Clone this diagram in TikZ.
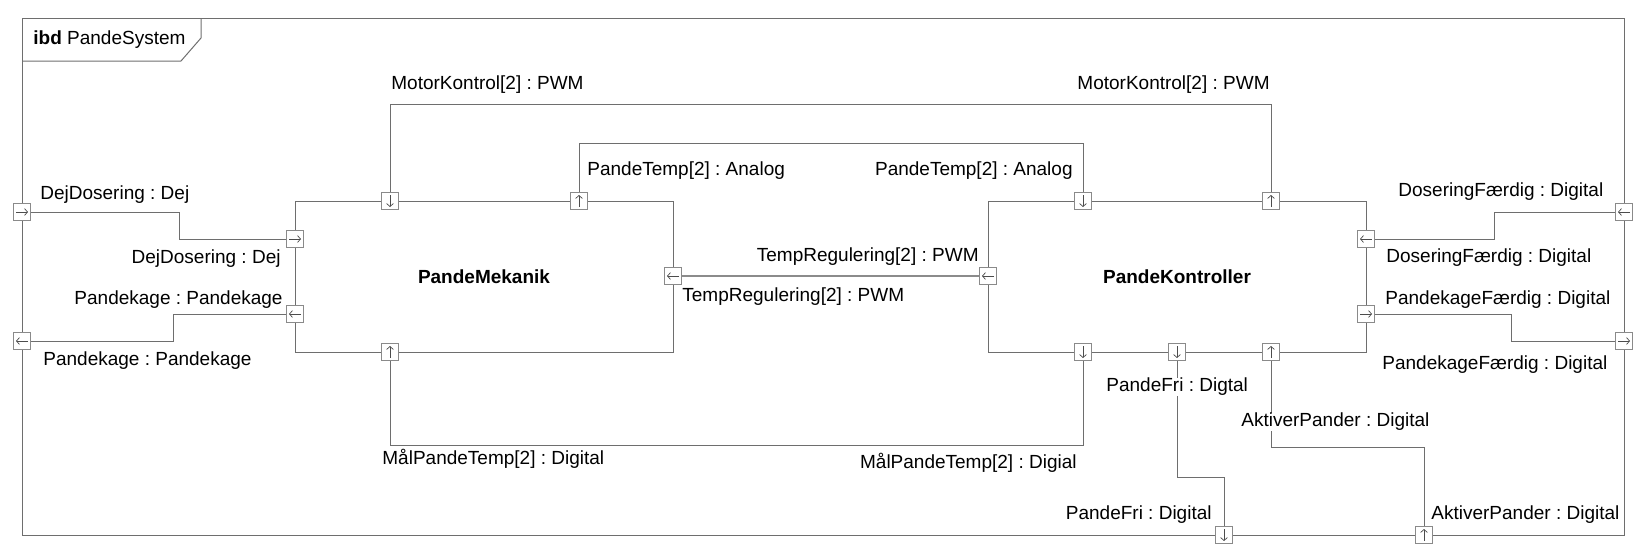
\documentclass[tikz,border=0pt]{standalone}
\usepackage{fontspec}
\setmainfont{Liberation Sans}
\frenchspacing
\usetikzlibrary{arrows.meta}
\definecolor{linegray}{HTML}{6E6E6E}
\definecolor{portgray}{HTML}{8A8A8A}
\newcommand{\lblfont}{\fontsize{9.5}{11.4}\selectfont}
\tikzstyle{block} = [draw=linegray, line width=0.5pt, inner sep=0pt, font=\lblfont\bfseries]
\tikzstyle{lbl} = [inner sep=0pt, fill=white]
\tikzstyle{parr} = [line width=0.35pt, draw=black!70, -{Straight Barb[length=1.5pt,width=3.4pt]}]
\tikzstyle{port} = [draw=portgray, fill=white, line width=0.4pt, minimum size=8.5pt, inner sep=0pt]
\tikzstyle{portR} = [port, path picture={\draw[parr] ([xshift=-3pt]path picture bounding box.center) -- ([xshift=3pt]path picture bounding box.center);}]
\tikzstyle{portL} = [port, path picture={\draw[parr] ([xshift=3pt]path picture bounding box.center) -- ([xshift=-3pt]path picture bounding box.center);}]
\tikzstyle{portU} = [port, path picture={\draw[parr] ([yshift=-3pt]path picture bounding box.center) -- ([yshift=3pt]path picture bounding box.center);}]
\tikzstyle{portD} = [port, path picture={\draw[parr] ([yshift=3pt]path picture bounding box.center) -- ([yshift=-3pt]path picture bounding box.center);}]

\begin{document}
\begin{tikzpicture}[x=0.5pt, y=-0.5pt]
\tikzset{every node/.style={font=\lblfont}}
\useasboundingbox (0,0) rectangle (1652,558);

% frame
\draw[linegray, line width=0.5pt] (22,18) rectangle (1624,535);
\draw[linegray, line width=0.5pt] (22,61) -- (181,61) -- (201,38) -- (201,18);
\node[anchor=west, inner sep=0pt] (title) at (33,40) {\textbf{ibd} PandeSystem};

% blocks
\node[block, minimum width=189pt, minimum height=75.5pt] (mek) at (484,276.5) {PandeMekanik};
\node[block, minimum width=189pt, minimum height=75.5pt] (kon) at (1177,276.5) {PandeKontroller};

% ports on frame
\node[portR] (fDej) at (22,212) {};
\node[portL] (fKage) at (22,341) {};
\node[portL] (fDos) at (1624,212) {};
\node[portR] (fKageF) at (1624,341) {};
\node[portD] (fFri) at (1224,535) {};
\node[portU] (fAkt) at (1424,535) {};

% ports on PandeMekanik
\node[portD] (mMotor) at (390,201) {};
\node[portU] (mTemp) at (579,201) {};
\node[portR] (mDej) at (295,239) {};
\node[portL] (mKage) at (295,314) {};
\node[portL] (mReg) at (673,276) {};
\node[portU] (mMaal) at (390,352) {};

% ports on PandeKontroller
\node[portD] (kTemp) at (1083,201) {};
\node[portU] (kMotor) at (1271,201) {};
\node[portL] (kReg) at (988,276) {};
\node[portL] (kDos) at (1366,239) {};
\node[portR] (kKageF) at (1366,314) {};
\node[portD] (kMaal) at (1083,352) {};
\node[portD] (kFri) at (1177,352) {};
\node[portU] (kAkt) at (1271,352) {};

% connectors
\foreach \from/\via/\to in {fDej/{179,212}/mDej, mKage/{173,314}/fKage, kDos/{1494,239}/fDos, kKageF/{1511,314}/fKageF}
{
	\draw[linegray, line width=0.5pt] (\from) -- (\via) |- (\to);
}
\foreach \from/\via/\to in {mMotor/{390,104}/kMotor, mTemp/{579,143}/kTemp, mMaal/{390,445}/kMaal, kFri/{1177,477}/fFri, kAkt/{1271,447}/fAkt}
{
	\draw[linegray, line width=0.5pt] (\from) -- (\via) -| (\to);
}
\draw[linegray!80, line width=0.9pt] (mReg) -- (kReg);

% labels
\node[lbl, anchor=west] (lMotor1) at (391,85) {MotorKontrol[2] : PWM};
\node[lbl, anchor=east] (lMotor2) at (1270,85) {MotorKontrol[2] : PWM};
\node[lbl, anchor=west] (lTemp1) at (587,171) {PandeTemp[2] : Analog};
\node[lbl, anchor=east] (lTemp2) at (1073,171) {PandeTemp[2] : Analog};
\node[lbl, anchor=west] (lDej1) at (40,195) {DejDosering : Dej};
\node[lbl, anchor=east] (lDej2) at (281,259) {DejDosering : Dej};
\node[lbl, anchor=east] (lKage1) at (283,300) {Pandekage : Pandekage};
\node[lbl, anchor=west] (lKage2) at (43,361) {Pandekage : Pandekage};
\node[lbl, anchor=east] (lReg1) at (979,257) {TempRegulering[2] : PWM};
\node[lbl, anchor=west] (lReg2) at (682,297) {TempRegulering[2] : PWM};
\node[lbl, anchor=west] (lMaal1) at (382,459) {MålPandeTemp[2] : Digital};
\node[lbl, anchor=east] (lMaal2) at (1077,463) {MålPandeTemp[2] : Digial};
\node[lbl, anchor=west] (lDos1) at (1398,192) {DoseringFærdig : Digital};
\node[lbl, anchor=west] (lDos2) at (1386,258) {DoseringFærdig : Digital};
\node[lbl, anchor=west] (lKageF1) at (1385,300) {PandekageFærdig : Digital};
\node[lbl, anchor=west] (lKageF2) at (1382,365) {PandekageFærdig : Digital};
\node[lbl, anchor=west] (lFri1) at (1106,387) {PandeFri : Digtal};
\node[lbl, anchor=west] (lAkt1) at (1241,422) {AktiverPander : Digital};
\node[lbl, anchor=east] (lFri2) at (1212,515) {PandeFri : Digital};
\node[lbl, anchor=west] (lAkt2) at (1431,515) {AktiverPander : Digital};

\end{tikzpicture}
\end{document}
